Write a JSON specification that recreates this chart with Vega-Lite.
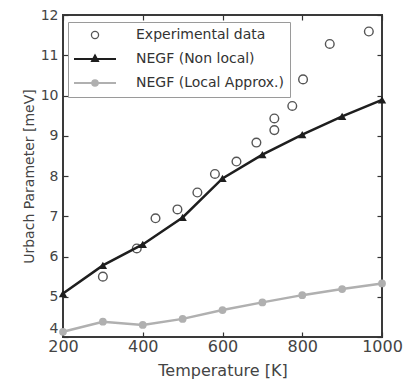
{
  "$schema": "https://vega.github.io/schema/vega-lite/v6.json",
  "width": 319,
  "height": 322,
  "autosize": {"type": "none"},
  "padding": {"left": 63, "top": 15, "right": 24, "bottom": 48},
  "background": "white",
  "config": {
    "view": {"stroke": "#3a3a3a", "strokeWidth": 2},
    "font": "DejaVu Sans",
    "axis": {"domain": false, "grid": false, "tickColor": "#333", "tickSize": -5, "tickWidth": 1.2, "labelColor": "#444", "titleColor": "#444", "titleFontWeight": "normal", "labelFont": "DejaVu Sans", "titleFont": "DejaVu Sans"}
  },
  "data": {
    "values": [
      {"series": "Experimental data", "T": 300, "U": 5.5},
      {"series": "Experimental data", "T": 385, "U": 6.2},
      {"series": "Experimental data", "T": 432, "U": 6.95},
      {"series": "Experimental data", "T": 487, "U": 7.17},
      {"series": "Experimental data", "T": 537, "U": 7.59},
      {"series": "Experimental data", "T": 581, "U": 8.05},
      {"series": "Experimental data", "T": 635, "U": 8.36},
      {"series": "Experimental data", "T": 685, "U": 8.83},
      {"series": "Experimental data", "T": 730, "U": 9.43},
      {"series": "Experimental data", "T": 730, "U": 9.14},
      {"series": "Experimental data", "T": 775, "U": 9.74},
      {"series": "Experimental data", "T": 802, "U": 10.4},
      {"series": "Experimental data", "T": 869, "U": 11.28},
      {"series": "Experimental data", "T": 967, "U": 11.59},
      {"series": "NEGF (Non local)", "T": 200, "U": 5.08},
      {"series": "NEGF (Non local)", "T": 300, "U": 5.78},
      {"series": "NEGF (Non local)", "T": 400, "U": 6.3},
      {"series": "NEGF (Non local)", "T": 500, "U": 6.97},
      {"series": "NEGF (Non local)", "T": 600, "U": 7.94},
      {"series": "NEGF (Non local)", "T": 700, "U": 8.53},
      {"series": "NEGF (Non local)", "T": 800, "U": 9.03},
      {"series": "NEGF (Non local)", "T": 900, "U": 9.48},
      {"series": "NEGF (Non local)", "T": 1000, "U": 9.89},
      {"series": "NEGF (Local Approx.)", "T": 200, "U": 4.13},
      {"series": "NEGF (Local Approx.)", "T": 300, "U": 4.38},
      {"series": "NEGF (Local Approx.)", "T": 400, "U": 4.3},
      {"series": "NEGF (Local Approx.)", "T": 500, "U": 4.45},
      {"series": "NEGF (Local Approx.)", "T": 600, "U": 4.67},
      {"series": "NEGF (Local Approx.)", "T": 700, "U": 4.86},
      {"series": "NEGF (Local Approx.)", "T": 800, "U": 5.04},
      {"series": "NEGF (Local Approx.)", "T": 900, "U": 5.19},
      {"series": "NEGF (Local Approx.)", "T": 1000, "U": 5.33}
    ]
  },
  "resolve": {"axis": {"x": "independent", "y": "independent"}},
  "layer": [
    {
      "transform": [{"filter": "datum.series === 'NEGF (Local Approx.)'"}],
      "mark": {"type": "line", "strokeWidth": 2.5},
      "encoding": {
        "x": {"field": "T", "type": "quantitative", "scale": {"domain": [200, 1000], "nice": false, "zero": false},
              "axis": {"orient": "bottom", "values": [200, 400, 600, 800, 1000], "format": "d", "title": "Temperature [K]", "labelFontSize": 16, "titleFontSize": 16, "labelPadding": 6, "titlePadding": 8, "labelFlush": false}},
        "y": {"field": "U", "type": "quantitative", "scale": {"domain": [4, 12], "nice": false, "zero": false},
              "axis": {"orient": "left", "values": [4, 5, 6, 7, 8, 9, 10, 11, 12], "title": "Urbach Parameter [meV]", "labelFontSize": 14, "titleFontSize": 14, "labelPadding": 10, "titlePadding": 4,
                       "labelBaseline": {"expr": "datum.value === 4 ? 'bottom' : 'middle'"},
                       "labelOffset": {"expr": "datum.value === 4 ? -2 : 0"}}},
        "color": {"field": "series", "type": "nominal",
                  "scale": {"domain": ["Experimental data", "NEGF (Non local)", "NEGF (Local Approx.)"], "range": ["#555555", "#1e1e1e", "#b0b0b0"]},
                  "legend": {
                    "title": null, "orient": "none", "legendX": 5, "legendY": 7,
                    "direction": "vertical",
                    "labelFont": "DejaVu Sans", "labelFontSize": 14, "labelColor": "#333",
                    "symbolSize": 100, "symbolStrokeWidth": 1.5,
                    "symbolOffset": 14, "labelOffset": 34,
                    "rowPadding": 9, "padding": 6,
                    "strokeColor": "#9a9a9a", "fillColor": "white",
                    "encode": {
                      "symbols": {
                        "update": {
                          "shape": {"signal": "datum.value === 'Experimental data' ? 'M0.17,0A0.17,0.17,0,1,1,-0.17,0A0.17,0.17,0,1,1,0.17,0Z' : datum.value === 'NEGF (Non local)' ? 'M-1,0L1,0M0,-0.15L0.13,0.09L-0.13,0.09Z' : 'M-1,0L1,0M0.13,0A0.13,0.13,0,1,1,-0.13,0A0.13,0.13,0,1,1,0.13,0Z'"},
                          "size": {"signal": "1764"},
                          "fill": {"signal": "datum.value === 'Experimental data' ? 'white' : datum.value === 'NEGF (Non local)' ? '#1e1e1e' : '#b0b0b0'"},
                          "fillOpacity": {"signal": "datum.value === 'Experimental data' ? 0 : 1"},
                          "stroke": {"signal": "datum.value === 'Experimental data' ? '#555555' : datum.value === 'NEGF (Non local)' ? '#1e1e1e' : '#b0b0b0'"},
                          "strokeWidth": {"signal": "datum.value === 'Experimental data' ? 1.3 : 2.2"}
                        }
                      }
                    }
                  }}
      }
    },
    {
      "transform": [{"filter": "datum.series === 'NEGF (Local Approx.)'"}],
      "mark": {"type": "point", "filled": true, "shape": "circle", "size": 60, "opacity": 1},
      "encoding": {
        "x": {"field": "T", "type": "quantitative", "axis": {"orient": "top", "values": [200, 400, 600, 800, 1000], "labels": false, "title": null}},
        "y": {"field": "U", "type": "quantitative", "axis": {"orient": "right", "values": [4, 5, 6, 7, 8, 9, 10, 11, 12], "labels": false, "title": null}},
        "color": {"field": "series", "type": "nominal"}
      }
    },
    {
      "transform": [{"filter": "datum.series === 'Experimental data'"}],
      "mark": {"type": "point", "filled": false, "shape": "circle", "size": 75, "strokeWidth": 1.4, "opacity": 1},
      "encoding": {
        "x": {"field": "T", "type": "quantitative", "axis": null},
        "y": {"field": "U", "type": "quantitative", "axis": null},
        "color": {"field": "series", "type": "nominal"}
      }
    },
    {
      "transform": [{"filter": "datum.series === 'NEGF (Non local)'"}],
      "mark": {"type": "line", "strokeWidth": 2.5},
      "encoding": {
        "x": {"field": "T", "type": "quantitative", "axis": null},
        "y": {"field": "U", "type": "quantitative", "axis": null},
        "color": {"field": "series", "type": "nominal"}
      }
    },
    {
      "transform": [{"filter": "datum.series === 'NEGF (Non local)'"}],
      "mark": {"type": "point", "filled": true, "shape": "triangle-up", "size": 70, "opacity": 1},
      "encoding": {
        "x": {"field": "T", "type": "quantitative", "axis": null},
        "y": {"field": "U", "type": "quantitative", "axis": null},
        "color": {"field": "series", "type": "nominal"}
      }
    }
  ]
}
